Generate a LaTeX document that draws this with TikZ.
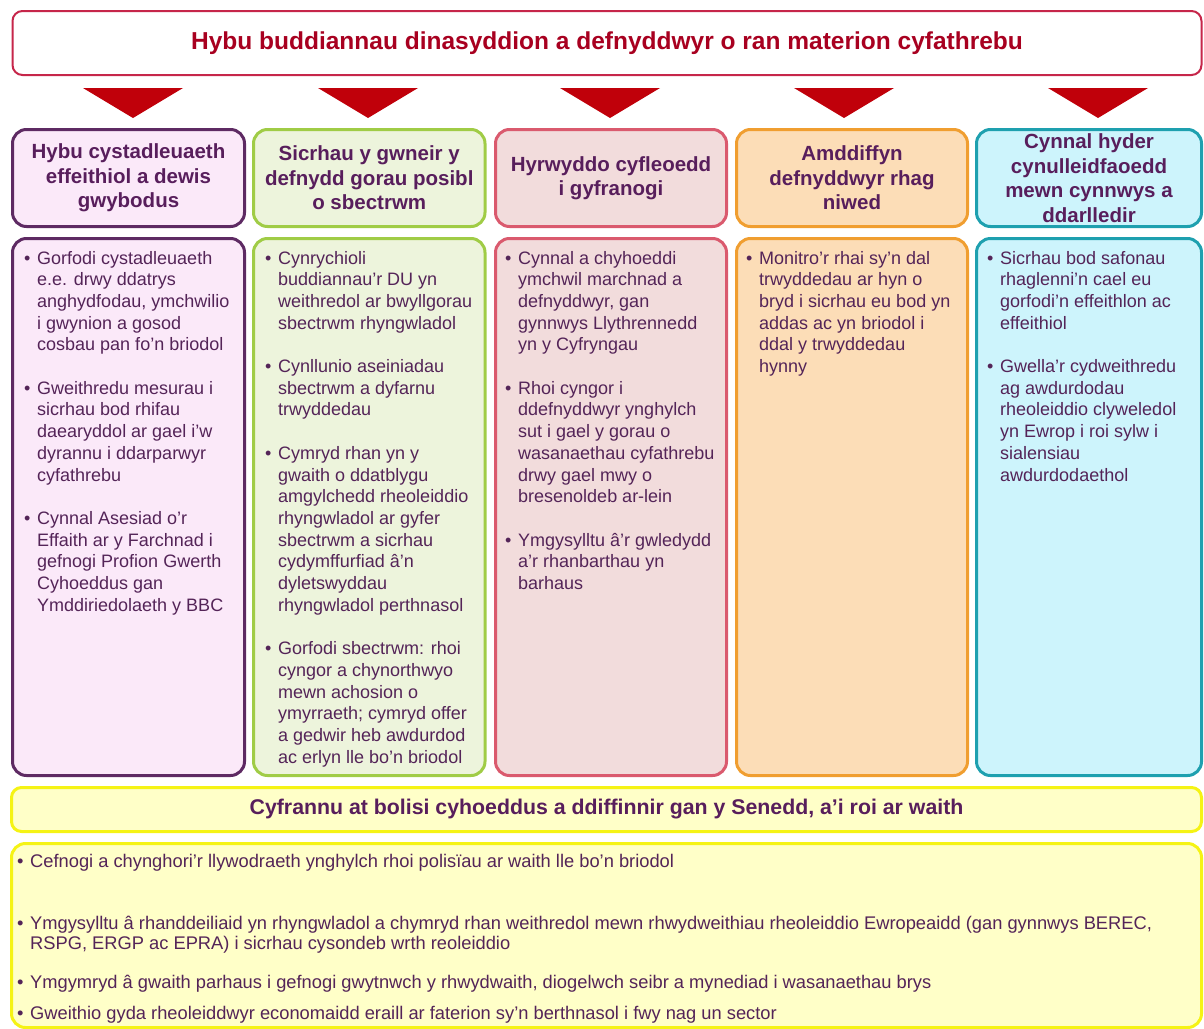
\documentclass[tikz,border=0pt]{standalone}
\usepackage{fontspec}
\setmainfont{Liberation Sans}
\usepackage{array}
\definecolor{topred}{RGB}{198,38,74}
\definecolor{titlered}{RGB}{168,0,32}
\definecolor{arrowred}{RGB}{192,0,10}
\definecolor{txt}{RGB}{84,36,88}
\definecolor{hdrtxt}{RGB}{88,30,92}
\definecolor{cAd}{RGB}{94,42,99}
\definecolor{cAf}{RGB}{251,233,249}
\definecolor{cBd}{RGB}{160,204,70}
\definecolor{cBf}{RGB}{237,244,220}
\definecolor{cCd}{RGB}{218,90,110}
\definecolor{cCf}{RGB}{242,220,220}
\definecolor{cDd}{RGB}{240,158,48}
\definecolor{cDf}{RGB}{252,221,183}
\definecolor{cEd}{RGB}{30,160,175}
\definecolor{cEf}{RGB}{205,244,252}
\definecolor{yd}{RGB}{245,243,20}
\definecolor{yf}{RGB}{255,255,200}
\newcommand{\blist}[1]{{\setlength{\tabcolsep}{0pt}\renewcommand{\arraystretch}{1}\begin{tabular}[t]{@{}p{13pt}@{}l@{}}#1\end{tabular}}}
\begin{document}
\begin{tikzpicture}[x=1pt,y=-1pt,
  box/.style={draw, line width=3pt, rounded corners=14pt, inner sep=0pt},
  hdr/.style={box, minimum height=97pt, align=center, text=hdrtxt,
    font=\fontsize{20.5}{24.5}\selectfont\bfseries},
  bodybox/.style={box, minimum height=537pt},
  bodytext/.style={anchor=base west, inner sep=0pt, text=txt,
    font=\fontsize{18}{21.7}\selectfont},
  bottext/.style={anchor=base west, inner sep=0pt, text=txt,
    font=\fontsize{18.3}{20.5}\selectfont},
  tri/.style={fill=arrowred}]
\useasboundingbox (0,0) rectangle (1204,1028);

% top box
\node[draw=topred, line width=2pt, rounded corners=10pt, fill=white,
  minimum width=1189pt, minimum height=64pt, inner sep=0pt, text=titlered,
  font=\fontsize{24.5}{28}\selectfont\bfseries] (top) at (607,43)
  {Hybu buddiannau dinasyddion a defnyddwyr o ran materion cyfathrebu};

% triangles
\fill[tri] (83,88) -- (183,88) -- (133,118) -- cycle;
\fill[tri] (318,88) -- (418,88) -- (368,118) -- cycle;
\fill[tri] (560,88) -- (660,88) -- (610,118) -- cycle;
\fill[tri] (794,88) -- (894,88) -- (844,118) -- cycle;
\fill[tri] (1048,88) -- (1148,88) -- (1098,118) -- cycle;

% headers
\node[hdr, draw=cAd, fill=cAf, minimum width=232pt] (h1) at (128.5,178)
  {Hybu cystadleuaeth\\effeithiol a dewis\\gwybodus};
\node[hdr, draw=cBd, fill=cBf, minimum width=231.5pt] (h2) at (369.25,178)
  {Sicrhau y gwneir y\\defnydd gorau posibl\\o sbectrwm};
\node[hdr, draw=cCd, fill=cCf, minimum width=231pt] (h3) at (611,178)
  {Hyrwyddo cyfleoedd\\i gyfranogi};
\node[hdr, draw=cDd, fill=cDf, minimum width=231pt] (h4) at (852,178)
  {Amddiffyn\\defnyddwyr rhag\\niwed};
\node[hdr, draw=cEd, fill=cEf, minimum width=225pt] (h5) at (1089,178)
  {Cynnal hyder\\cynulleidfaoedd\\mewn cynnwys a\\ddarlledir};

% body boxes
\node[bodybox, draw=cAd, fill=cAf, minimum width=232pt] (b1) at (128.5,507) {};
\node[bodybox, draw=cBd, fill=cBf, minimum width=231.5pt] (b2) at (369.25,507) {};
\node[bodybox, draw=cCd, fill=cCf, minimum width=231pt] (b3) at (611,507) {};
\node[bodybox, draw=cDd, fill=cDf, minimum width=231pt] (b4) at (852,507) {};
\node[bodybox, draw=cEd, fill=cEf, minimum width=225pt] (b5) at (1089,507) {};

% body texts
\node[bodytext] (t1) at (24,264) {\blist{
• & Gorfodi cystadleuaeth\\
 & e.e. drwy ddatrys\\
 & anghydfodau, ymchwilio\\
 & i gwynion a gosod\\
 & cosbau pan fo'n briodol\\
 & \\
• & Gweithredu mesurau i\\
 & sicrhau bod rhifau\\
 & daearyddol ar gael i'w\\
 & dyrannu i ddarparwyr\\
 & cyfathrebu\\
 & \\
• & Cynnal Asesiad o'r\\
 & Effaith ar y Farchnad i\\
 & gefnogi Profion Gwerth\\
 & Cyhoeddus gan\\
 & Ymddiriedolaeth y BBC}};

\node[bodytext] (t2) at (265,264) {\blist{
• & Cynrychioli\\
 & buddiannau'r DU yn\\
 & weithredol ar bwyllgorau\\
 & sbectrwm rhyngwladol\\
 & \\
• & Cynllunio aseiniadau\\
 & sbectrwm a dyfarnu\\
 & trwyddedau\\
 & \\
• & Cymryd rhan yn y\\
 & gwaith o ddatblygu\\
 & amgylchedd rheoleiddio\\
 & rhyngwladol ar gyfer\\
 & sbectrwm a sicrhau\\
 & cydymffurfiad â'n\\
 & dyletswyddau\\
 & rhyngwladol perthnasol\\
 & \\
• & Gorfodi sbectrwm: rhoi\\
 & cyngor a chynorthwyo\\
 & mewn achosion o\\
 & ymyrraeth; cymryd offer\\
 & a gedwir heb awdurdod\\
 & ac erlyn lle bo'n briodol}};

\node[bodytext] (t3) at (505,264) {\blist{
• & Cynnal a chyhoeddi\\
 & ymchwil marchnad a\\
 & defnyddwyr, gan\\
 & gynnwys Llythrennedd\\
 & yn y Cyfryngau\\
 & \\
• & Rhoi cyngor i\\
 & ddefnyddwyr ynghylch\\
 & sut i gael y gorau o\\
 & wasanaethau cyfathrebu\\
 & drwy gael mwy o\\
 & bresenoldeb ar-lein\\
 & \\
• & Ymgysylltu â'r gwledydd\\
 & a'r rhanbarthau yn\\
 & barhaus}};

\node[bodytext] (t4) at (746,264) {\blist{
• & Monitro'r rhai sy'n dal\\
 & trwyddedau ar hyn o\\
 & bryd i sicrhau eu bod yn\\
 & addas ac yn briodol i\\
 & ddal y trwyddedau\\
 & hynny}};

\node[bodytext] (t5) at (987,264) {\blist{
• & Sicrhau bod safonau\\
 & rhaglenni'n cael eu\\
 & gorfodi'n effeithlon ac\\
 & effeithiol\\
 & \\
• & Gwella'r cydweithredu\\
 & ag awdurdodau\\
 & rheoleiddio clyweledol\\
 & yn Ewrop i roi sylw i\\
 & sialensiau\\
 & awdurdodaethol}};

% bottom
\node[box, draw=yd, fill=yf, rounded corners=10pt, minimum width=1190pt,
  minimum height=44pt, text=hdrtxt, font=\fontsize{21.3}{25}\selectfont\bfseries]
  (bh) at (606.5,809.5)
  {Cyfrannu at bolisi cyhoeddus a ddiffinnir gan y Senedd, a'i roi ar waith};
\node[box, draw=yd, fill=yf, minimum width=1190pt, minimum height=184pt]
  (bb) at (606.5,935.5) {};

\node[bottext] (p1) at (17,867) {\blist{• & Cefnogi a chynghori'r llywodraeth ynghylch rhoi polisïau ar waith lle bo'n briodol}};
\node[bottext] (p2) at (17,929) {\blist{• & Ymgysylltu â rhanddeiliaid yn rhyngwladol a chymryd rhan weithredol mewn rhwydweithiau rheoleiddio Ewropeaidd (gan gynnwys BEREC,\\
 & RSPG, ERGP ac EPRA) i sicrhau cysondeb wrth reoleiddio}};
\node[bottext] (p3) at (17,988) {\blist{• & Ymgymryd â gwaith parhaus i gefnogi gwytnwch y rhwydwaith, diogelwch seibr a mynediad i wasanaethau brys}};
\node[bottext] (p4) at (17,1019) {\blist{• & Gweithio gyda rheoleiddwyr economaidd eraill ar faterion sy'n berthnasol i fwy nag un sector}};
\end{tikzpicture}
\end{document}
